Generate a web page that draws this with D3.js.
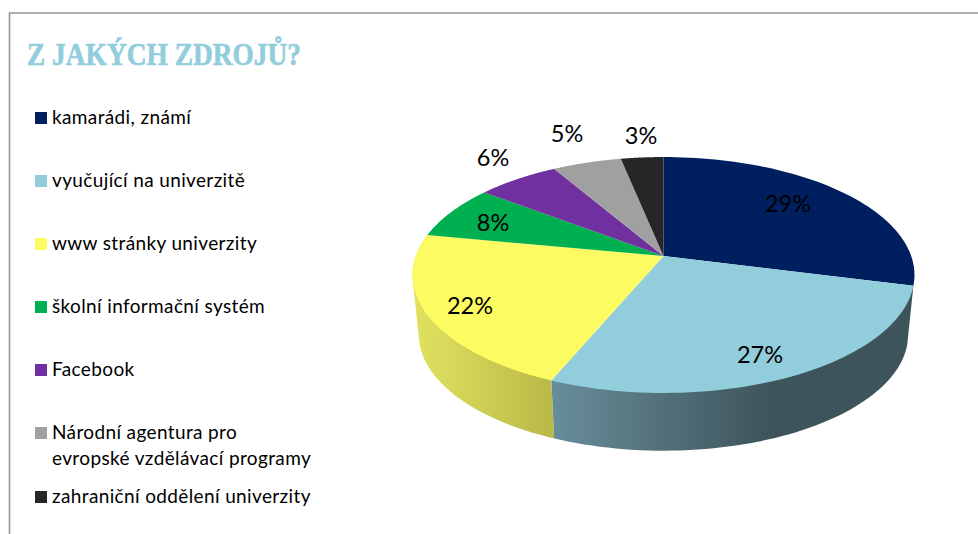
<!DOCTYPE html>
<html>
<head>
<meta charset="utf-8">
<script src="https://cdn.jsdelivr.net/npm/d3@7"></script>
<style>
  html, body { margin: 0; padding: 0; background: #fff; }
  svg { display: block; }
  text { font-family: Lato, "Open Sans", sans-serif; fill: #000; }
</style>
</head>
<body>
<div id="chart"></div>
<script>
const categories = ["kamarádi, známí", "vyučující na univerzitě", "www stránky univerzity", "školní informační systém", "Facebook", "Národní agentura pro|evropské vzdělávací programy", "zahraniční oddělení univerzity"];
const values = [29, 27.3, 21.7, 7.4, 6.2, 5.2, 3.2];
const labels = ["29%", "27%", "22%", "8%", "6%", "5%", "3%"];
const colors = ["#001f5f", "#92cddc", "#fcfc62", "#00b050", "#7030a0", "#a0a0a0", "#262626"];
const legendY = [118, 181, 244, 307, 370, 433, 497];
const labelPos = [[788, 204], [760, 355], [470, 306], [493, 223], [493, 158], [567, 134], [641, 136]];

const width = 978, height = 534;
const svg = d3.select("#chart").append("svg")
    .attr("width", width)
    .attr("height", height);

// frame, only top and left are in the picture
svg.append("path")
    .attr("d", "M9.5,534V13H978")
    .attr("fill", "none")
    .attr("stroke", "#969696")
    .attr("stroke-width", 1.6);

svg.append("text")
    .attr("x", 27)
    .attr("y", 65)
    .attr("textLength", 274)
    .attr("lengthAdjust", "spacingAndGlyphs")
    .style("font-family", "'Liberation Serif', serif")
    .style("font-weight", "bold")
    .style("font-size", "31px")
    .style("fill", "#92cddc")
    .style("stroke", "#92cddc")
    .style("stroke-width", 0.6)
    .text("Z JAKÝCH ZDROJŮ?");

// legend
categories.forEach(function(c, i) {
    svg.append("rect")
        .attr("x", 35)
        .attr("y", legendY[i] - 6)
        .attr("width", 12)
        .attr("height", 12)
        .attr("fill", colors[i]);
    c.split("|").forEach(function(line, j) {
        svg.append("text")
            .attr("x", 52)
            .attr("y", legendY[i] + 5.5 + j * 26)
            .style("font-size", "19px")
            .style("letter-spacing", "0.37px")
            .text(line);
    });
});

// the pie is seen in perspective, so the apex is not the centre of the ellipse
const cx = 663.5, cy = 256;
const persp = -0.161, ax = 247.7, ay = 114.9;
function rim(t) {
    const u = Math.sin(t), v = -Math.cos(t);
    const d = 1 + persp * v;
    return [cx + ax * u / d, cy + ay * v / d];
}
function lower(t) {
    const p = rim(t);
    return [cx + (p[0] - cx) * 0.975, 275 + (p[1] - 275) * 0.985 + 59.5];
}
function steps(a, b) {
    return d3.range(0, 61).map(function(i) { return a + (b - a) * i / 60; });
}

const arcs = d3.pie().sort(null)(values);
const line = d3.line();
const defs = svg.append("defs");

function wallGradient(id, x1, x2, stops) {
    const g = defs.append("linearGradient")
        .attr("id", id)
        .attr("gradientUnits", "userSpaceOnUse")
        .attr("x1", x1).attr("x2", x2)
        .attr("y1", 0).attr("y2", 0);
    stops.forEach(function(s) {
        g.append("stop").attr("offset", s[0]).attr("stop-color", s[1]);
    });
}
wallGradient("wall1", 553, 770, [[0, "#678d9a"], [1, "#3e545b"]]);
wallGradient("wall2", 413, 555, [[0, "#e2e260"], [1, "#b8b847"]]);

// hull gives the straight silhouette between the top and the lower rim
const walls = [[1, "url(#wall1)"], [2, "url(#wall2)"]];
walls.forEach(function(w) {
    const a = arcs[w[0]];
    const ts = steps(a.startAngle, a.endAngle);
    const hull = d3.polygonHull(ts.map(rim).concat(ts.map(lower)));
    svg.append("path")
        .attr("d", line(hull) + "Z")
        .attr("fill", w[1]);
});

svg.selectAll("path.slice")
    .data(arcs)
    .join("path")
    .attr("class", "slice")
    .attr("d", function(d) {
        return line([[cx, cy]].concat(steps(d.startAngle, d.endAngle).map(rim))) + "Z";
    })
    .attr("fill", function(d) { return colors[d.index]; });

labels.forEach(function(l, i) {
    svg.append("text")
        .attr("x", labelPos[i][0])
        .attr("y", labelPos[i][1] + 8)
        .attr("text-anchor", "middle")
        .style("font-size", "23.5px")
        .text(l);
});
</script>
</body>
</html>
